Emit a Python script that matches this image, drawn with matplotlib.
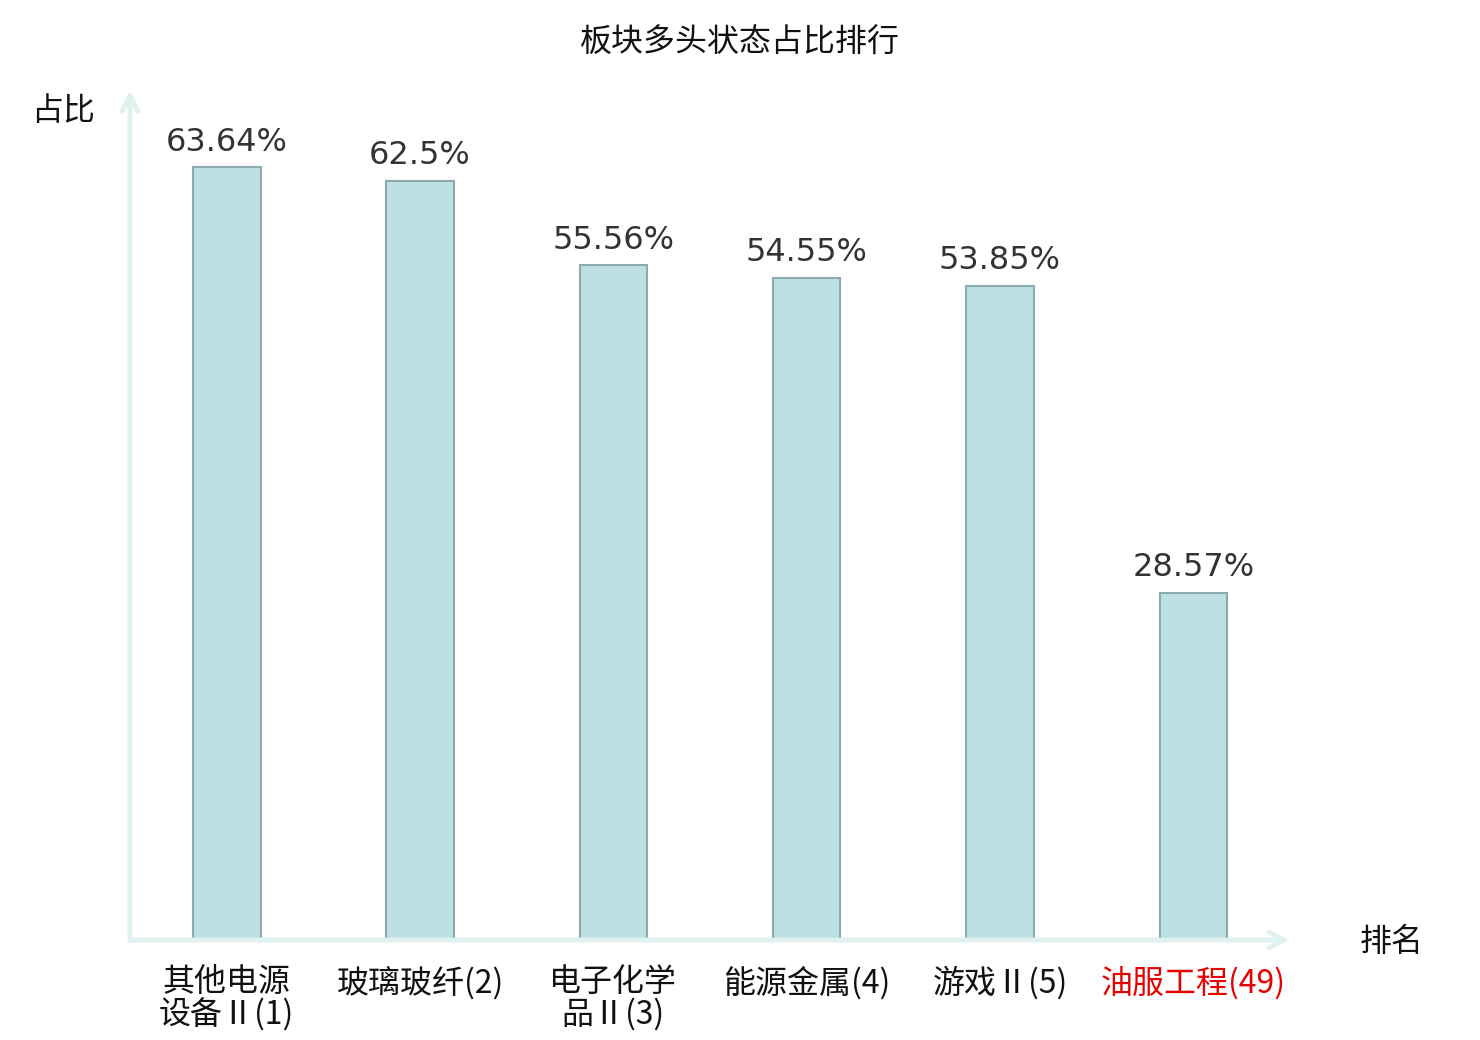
import matplotlib
matplotlib.use('Agg')
from matplotlib import pyplot as plt

plt.rcParams['font.family'] = ['Noto Sans CJK SC', 'DejaVu Sans']

# data
names = ['其他电源\n设备Ⅱ(1)', '玻璃玻纤(2)', '电子化学\n品Ⅱ(3)', '能源金属(4)', '游戏Ⅱ(5)', '油服工程(49)']
ratios = [63.64, 62.5, 55.56, 54.55, 53.85, 28.57]
value_texts = ['63.64%', '62.5%', '55.56%', '54.55%', '53.85%', '28.57%']
label_colors = ['#111111', '#111111', '#111111', '#111111', '#111111', '#e60000']

fig = plt.figure(figsize=(14.8, 10.4), dpi=100)
ax = fig.add_axes([130 / 1480, 100 / 1040, 1160 / 1480, 850 / 1040])

x = list(range(len(names)))
ax.bar(x, ratios, width=0.35, color='#bce0e3', edgecolor='#8eaaac', linewidth=1.5, zorder=3)

for xi, v, t in zip(x, ratios, value_texts):
    ax.annotate(t, (xi, v), xytext=(0, 7), textcoords='offset points',
                ha='center', va='bottom', fontsize=23, color='#333333',
                family='DejaVu Sans')

ax.set_xlim(-0.5, 5.5)
ax.set_ylim(0, 70)
for s in ax.spines.values():
    s.set_visible(False)
ax.set_yticks([])
ax.set_xticks(x)
ax.set_xticklabels(names, fontsize=23, linespacing=1.0)
ax.tick_params(axis='x', length=0, pad=19)
for lbl, c in zip(ax.get_xticklabels(), label_colors):
    lbl.set_color(c)

# axis arrows
axis_col = '#dff2ef'
ax.annotate('', xy=(0, 1.0), xytext=(0, 0), xycoords='axes fraction',
            arrowprops=dict(arrowstyle='->', color=axis_col, lw=3.5, mutation_scale=28,
                            shrinkA=0, shrinkB=0), annotation_clip=False)
ax.annotate('', xy=(1.0, 0), xytext=(0, 0), xycoords='axes fraction',
            arrowprops=dict(arrowstyle='->', color=axis_col, lw=3.5, mutation_scale=28,
                            shrinkA=0, shrinkB=0), annotation_clip=False)

fig.text(63 / 1480, 1 - 111 / 1040, '占比', fontsize=23, ha='center', va='center', color='#111111')
fig.text(1392 / 1480, 1 - 942 / 1040, '排名', fontsize=23, ha='center', va='center', color='#111111')
fig.text(740 / 1480, 1 - 43 / 1040, '板块多头状态占比排行', fontsize=23, ha='center', va='center',
         color='#111111')

fig.savefig('out.png', dpi=100)
